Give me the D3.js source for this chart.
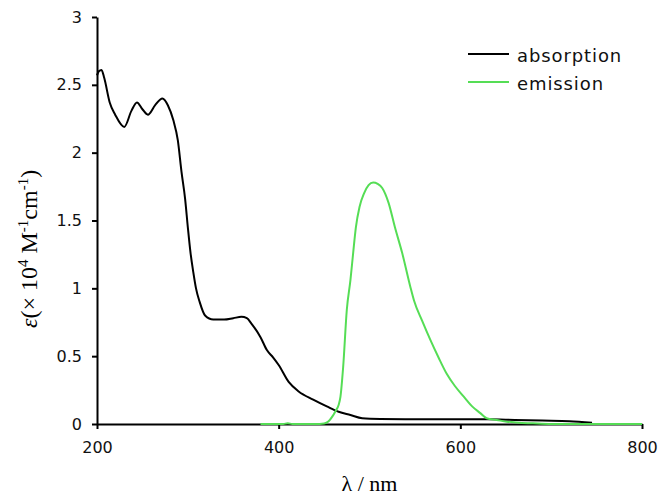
<!DOCTYPE html>
<html>
<head>
<meta charset="utf-8">
<script src="https://cdn.jsdelivr.net/npm/d3@7"></script>
<style>
  body { margin: 0; background: #fff; }
  .axis text { font-family: "DejaVu Sans", Verdana, sans-serif; font-size: 16px; fill: #111; }
  .axis path, .axis line { stroke: #000; stroke-width: 2px; }
  .legend text { font-family: "DejaVu Sans", Verdana, sans-serif; font-size: 18px; letter-spacing: 0.9px; fill: #111; }
</style>
</head>
<body>
<div id="chart"></div>
<script>
// Absorption spectrum (wavelength nm, epsilon x 10^4)
var absWl = [200, 202, 205, 208, 214, 220, 230, 238, 244, 250, 256, 264, 272, 278, 284, 289, 293, 297, 300, 303, 306, 309, 313, 319, 328, 340, 350, 359, 365, 370, 380, 387, 394, 400, 411, 422, 438, 453, 466, 479, 492, 512, 550, 600, 630, 660, 690, 720, 745];
var absVal = [2.57, 2.60, 2.61, 2.55, 2.37, 2.28, 2.19, 2.31, 2.37, 2.32, 2.28, 2.35, 2.40, 2.35, 2.24, 2.09, 1.86, 1.66, 1.45, 1.26, 1.12, 1.00, 0.90, 0.80, 0.77, 0.77, 0.78, 0.79, 0.78, 0.74, 0.64, 0.545, 0.49, 0.435, 0.31, 0.24, 0.18, 0.13, 0.09, 0.066, 0.042, 0.037, 0.035, 0.035, 0.035, 0.03, 0.025, 0.02, 0.01];

// Emission spectrum (same scale)
var emWl = [380, 400, 405, 410, 415, 420, 440, 450, 455, 459, 463, 466, 468, 471, 475, 479, 482, 485, 489, 494, 499, 504, 509, 514, 521, 528, 536, 545, 549, 558, 567, 576, 585, 594, 604, 613, 622, 629, 640, 651, 665, 680, 700, 750, 800];
var emVal = [0, 0, 0, 0.006, 0, 0, 0, 0.004, 0.02, 0.054, 0.1, 0.14, 0.2, 0.42, 0.84, 1.06, 1.26, 1.45, 1.60, 1.70, 1.76, 1.78, 1.77, 1.74, 1.63, 1.45, 1.26, 1.01, 0.91, 0.76, 0.62, 0.49, 0.37, 0.28, 0.2, 0.13, 0.08, 0.042, 0.03, 0.017, 0.01, 0.005, 0, 0, 0];

var xTicks = [200, 400, 600, 800];
var yTicks = [0, 0.5, 1, 1.5, 2, 2.5, 3];
var yTickLabels = ["0", "0.5", "1", "1.5", "2", "2.5", "3"];

var seriesNames = ["absorption", "emission"];
var seriesColors = ["#000000", "#55dd55"];

var svgWidth = 661;
var svgHeight = 495;

var margin = { top: 17, right: 19, bottom: 71, left: 97 };
var chartWidth = svgWidth - margin.left - margin.right;
var chartHeight = svgHeight - margin.top - margin.bottom;

var svg = d3.select("#chart")
  .append("svg")
  .attr("width", svgWidth)
  .attr("height", svgHeight);

var chartGroup = svg.append("g")
  .attr("transform", `translate(${margin.left}, ${margin.top})`);

var xScale = d3.scaleLinear().domain([200, 800]).range([0, chartWidth]);
var yScale = d3.scaleLinear().domain([0, 3]).range([chartHeight, 0]);

// axes
chartGroup.append("g")
  .attr("class", "axis")
  .call(d3.axisLeft(yScale)
    .tickValues(yTicks)
    .tickSize(5)
    .tickPadding(10)
    .tickSizeOuter(0)
    .tickFormat((d, i) => yTickLabels[i]));

chartGroup.append("g")
  .attr("class", "axis")
  .attr("transform", `translate(0, ${chartHeight})`)
  .call(d3.axisBottom(xScale)
    .tickValues(xTicks)
    .tickSize(5)
    .tickPadding(13)
    .tickSizeOuter(0)
    .tickFormat(d3.format("d")));

// lines
var line = d3.line()
  .x(d => xScale(d[0]))
  .y(d => yScale(d[1]))
  .curve(d3.curveMonotoneX);

var absData = absWl.map((w, i) => [w, absVal[i]]);
var emData = emWl.map((w, i) => [w, emVal[i]]);

chartGroup.append("path")
  .datum(absData)
  .attr("fill", "none")
  .attr("stroke", seriesColors[0])
  .attr("stroke-width", 2)
  .attr("d", line);

chartGroup.append("path")
  .datum(emData)
  .attr("fill", "none")
  .attr("stroke", seriesColors[1])
  .attr("stroke-width", 2)
  .attr("d", line);

// legend
var legend = svg.append("g").attr("class", "legend");
seriesNames.forEach(function(name, i) {
  var y = 54 + i * 28;
  legend.append("line")
    .attr("x1", 468).attr("x2", 509)
    .attr("y1", y).attr("y2", y)
    .attr("stroke", seriesColors[i])
    .attr("stroke-width", 2);
  legend.append("text")
    .attr("x", 517)
    .attr("y", y + 8)
    .text(name);
});

// axis titles
svg.append("text")
  .attr("x", margin.left + chartWidth / 2)
  .attr("y", 491)
  .attr("text-anchor", "middle")
  .style("font-family", "'Liberation Serif', 'Times New Roman', serif")
  .style("font-size", "22px")
  .text("λ / nm");

var yTitle = svg.append("text")
  .attr("transform", "translate(37, 328) rotate(-90)")
  .attr("text-anchor", "start")
  .style("font-family", "'Liberation Serif', 'Times New Roman', serif")
  .style("font-size", "24px");
yTitle.append("tspan").style("font-style", "italic").text("ε");
yTitle.append("tspan").text("(× 10");
yTitle.append("tspan").attr("dy", -9).style("font-size", "15px").text("4");
yTitle.append("tspan").attr("dy", 9).text(" M");
yTitle.append("tspan").attr("dy", -9).style("font-size", "15px").text("-1");
yTitle.append("tspan").attr("dy", 9).text("cm");
yTitle.append("tspan").attr("dy", -9).style("font-size", "15px").text("-1");
yTitle.append("tspan").attr("dy", 9).text(")");
</script>
</body>
</html>
